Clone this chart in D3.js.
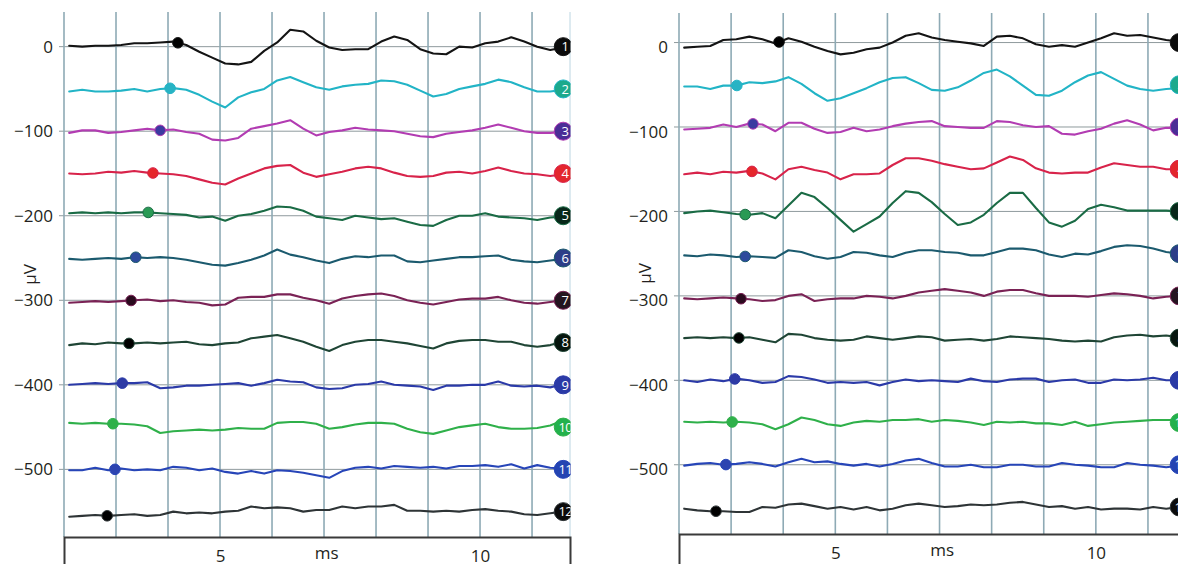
<!DOCTYPE html>
<html><head><meta charset="utf-8">
<script src="https://cdn.jsdelivr.net/npm/d3@7/dist/d3.min.js"></script>
<style>body{margin:0;background:#fff}svg{display:block}</style>
</head><body><svg id="c" width="1178" height="564"></svg>
<script>
// ---- data ----
const times = [2.1,2.35,2.6,2.85,3.1,3.35,3.6,3.85,4.1,4.35,4.6,4.85,5.1,5.35,5.6,5.85,6.1,6.35,6.6,6.85,7.1,7.35,7.6,7.85,8.1,8.35,8.6,8.85,9.1,9.35,9.6,9.85,10.1,10.35,10.6,10.85,11.1,11.35,11.6];
const baselines = [0,-50,-100,-150,-200,-250,-300,-350,-400,-450,-500,-550];
const traceNames = ["1","2","3","4","5","6","7","8","9","10","11","12"];

// deviations (µV) of each recorded trace from its baseline – left panel
const leftTraces = [
 [1,0,1,1,2,4,4,5,6,2,-6,-13,-20,-21,-18,-5,5,20,18,7,-1,-4,-3,-3,6,12,8,-3,-8,-9,0,-1,4,6,11,6,0,-4,-1],
 [-3,-1,-3,-3,-2,0,-3,0,1,-1,-7,-15,-22,-10,-4,0,10,14,8,2,-1,3,5,6,10,9,5,-2,-9,-6,0,3,6,11,8,2,-3,-3,-1],
 [-2,1,1,-2,-1,1,3,1,2,-1,-3,-10,-11,-8,3,6,9,13,3,-5,-1,1,4,2,1,0,-3,-6,-7,-3,-1,1,4,8,4,0,-2,-2,-1],
 [0,-1,0,2,1,3,1,0,-1,-3,-7,-11,-13,-6,0,6,9,10,1,-4,-1,2,6,8,6,1,-3,-4,-3,1,2,0,3,7,3,0,-1,-3,-1],
 [3,4,3,4,3,4,4,3,2,1,-2,-1,-6,0,2,6,11,10,6,-1,-3,-5,0,-2,-4,-3,-7,-11,-12,-5,0,0,3,-1,-2,-3,-5,-2,-1],
 [-1,-2,-1,0,-1,1,0,1,0,-2,-5,-8,-9,-6,-2,3,10,4,1,-3,-6,-1,2,1,3,3,-4,-5,-3,-1,1,1,2,3,-2,-4,-5,-3,-1],
 [-3,-2,-1,-2,-1,0,1,-1,0,-2,-3,-6,-5,3,4,4,7,7,3,0,-4,2,5,7,8,5,0,-3,-5,-2,1,2,2,4,0,-3,-4,-2,0],
 [-3,-1,-2,0,-1,-1,0,-1,0,1,-2,-3,-1,0,5,7,9,5,1,-5,-10,-3,1,3,3,1,-1,-4,-7,-1,2,3,3,1,1,-3,-5,-3,1],
 [0,1,2,1,2,2,3,-4,-3,-1,-1,0,1,2,-1,2,6,4,3,-3,-5,-4,0,1,4,0,-1,-2,-6,-1,-1,0,0,4,-1,-2,-1,-3,1],
 [5,4,5,4,4,3,1,-7,-5,-4,-3,-4,-3,-1,-2,-2,5,6,6,4,-2,0,3,5,5,4,-2,-6,-8,-4,0,2,4,0,-2,-2,-1,2,8],
 [-1,-1,2,-1,1,-1,0,-1,3,2,-1,1,-3,-5,-2,-5,-1,-2,-4,-7,-10,-2,2,3,1,4,3,2,3,1,4,4,5,3,6,1,5,2,1],
 [-6,-5,-4,-5,-4,-3,-5,-4,0,-2,-1,-2,0,1,6,4,5,4,0,2,2,6,4,6,6,8,1,1,0,1,0,2,3,1,0,-3,-4,-2,0]
];
// right panel
const rightTraces = [
 [-6,-5,-4,3,4,7,4,-1,5,1,-5,-10,-14,-12,-8,-6,0,8,11,6,3,1,-1,-4,7,8,5,-2,-5,-3,-5,0,5,11,8,9,6,3,1],
 [-2,-2,-5,-1,-1,3,2,4,9,1,-10,-19,-16,-10,-4,3,8,9,2,-6,-7,-3,5,14,18,10,-1,-12,-13,-7,3,11,15,7,-1,-5,-7,-5,-4],
 [-3,-2,-1,3,0,4,3,-5,5,5,-2,-7,-6,-1,-5,-3,1,4,6,7,1,0,-1,-1,7,6,2,0,1,-8,-9,-5,-2,4,8,3,-4,-1,-1],
 [-6,-4,-6,-3,-4,-2,-5,-12,0,3,-1,-4,-12,-6,-6,-5,5,13,13,10,6,3,0,1,8,15,11,1,-4,-5,-4,-4,2,7,5,3,3,0,0],
 [-2,0,1,-1,-3,-4,-2,-8,7,22,17,4,-10,-24,-15,-6,10,24,22,11,-3,-16,-13,-4,10,22,22,4,-13,-18,-11,3,8,5,1,1,1,1,0],
 [-2,-3,-1,-2,-4,-3,-4,-5,4,2,-3,-6,-4,2,1,-2,-4,1,4,4,2,1,-2,-2,2,6,6,4,-1,-4,0,-1,3,8,10,9,6,2,0],
 [-3,-4,-3,-2,-3,-4,-6,-5,0,2,-6,-4,-3,-3,0,-1,-3,0,4,6,8,6,4,0,5,7,7,3,0,0,0,-1,1,3,2,0,-3,-1,0],
 [0,1,0,1,0,1,-2,-5,5,4,0,-2,-3,-2,2,0,-2,0,2,1,-3,-2,-1,-3,-1,2,1,0,-1,-3,-4,-3,-4,1,3,4,2,3,1],
 [0,-2,1,-1,2,0,-3,-2,5,4,1,-3,-2,-3,-2,-6,-2,1,-1,0,-1,-2,2,-1,-2,1,2,2,-2,0,1,-3,-3,1,0,1,3,0,0],
 [1,0,1,0,1,0,-2,-8,-2,6,3,-2,-4,0,2,1,3,3,4,1,3,2,0,-3,1,0,1,-1,-1,-3,1,-4,-2,0,1,2,3,3,3],
 [-1,1,2,0,1,3,1,-2,3,7,3,4,1,-1,1,-2,1,5,7,2,-2,-2,0,-3,-3,0,0,-2,-2,2,0,-1,-3,-3,2,0,-1,-3,-1],
 [-2,-4,-5,-5,-6,-6,0,-1,3,4,1,-2,0,-3,0,-4,-2,2,4,2,0,1,3,2,3,5,6,3,0,1,-2,0,-3,-2,-2,-3,0,-2,0]
];
const leftDotTimes  = [4.19,4.04,3.85,3.71,3.62,3.38,3.29,3.25,3.12,2.94,2.98,2.83];
const rightDotTimes = [3.92,3.11,3.42,3.40,3.27,3.27,3.19,3.15,3.07,3.02,2.90,2.71];
const badgeTime = 11.6;

const yTickValues = [0,-100,-200,-300,-400,-500];
const yTickLabels = ["0","\u2212100","\u2212200","\u2212300","\u2212400","\u2212500"];
const xTickValues = [5,10];
const xTickLabels = ["5","10"];
const xGridValues = [2,3,4,5,6,7,8,9,10,11];
const xDomain = [2,11.73];
const xTitle = "ms", xTitleAt = 7.05;
const yTitle = "\u00b5V";

const lineColors  = ["#141414","#22b4c6","#b23cb2","#d8234a","#1a6b45","#1b5a6e","#7a2255","#1f4535","#2b3aa8","#2fb04a","#2745b8","#2e3436"];
const dotColors   = ["#000000","#27b3c4","#3b3aa0","#e5262b","#2a9a55","#2d4a9c","#2a0a1e","#000000","#2d3aa5","#2fb04a","#2d44b0","#000000"];
const badgeColors = ["#0b0b0b","#1ca98c","#4b2d96","#e3262d","#08281a","#2c3d88","#241420","#06150d","#2b3aa6","#22b14c","#2444b2","#0b0b0b"];

// ---- drawing ----
const svg = d3.select("#c");
const FONT = "'Open Sans', 'Noto Sans', sans-serif";
const panels = [
  {id:"L", traces:leftTraces, dots:leftDotTimes, x0:64, x1:570, yTop:12, yBot:537, yDom:[41,-580], labelDy:0},
  {id:"R", traces:rightTraces, dots:rightDotTimes, x0:679, x1:1186, yTop:13, yBot:534, yDom:[35,-582], labelDy:4.5}
];

function valueAt(arr, t){
  const i = Math.max(0, Math.min(times.length-2, d3.bisectRight(times, t)-1));
  const f = (t - times[i])/(times[i+1]-times[i]);
  return arr[i] + f*(arr[i+1]-arr[i]);
}

panels.forEach(p => {
  const x = d3.scaleLinear().domain(xDomain).range([p.x0, p.x1]);
  const y = d3.scaleLinear().domain(p.yDom).range([p.yTop, p.yBot]);
  const g = svg.append("g");

  svg.append("clipPath").attr("id","clip"+p.id)
    .append("rect").attr("x",0).attr("y",0).attr("width",p.x1+0.5).attr("height",564);

  // horizontal grid
  g.selectAll(".hg").data(yTickValues).join("line")
    .attr("x1", p.x0-5).attr("x2", p.x1)
    .attr("y1", d=>y(d)).attr("y2", d=>y(d))
    .attr("stroke","#8f9a9d").attr("stroke-width",1);
  // vertical grid
  g.selectAll(".vg").data(xGridValues).join("line")
    .attr("x1", d=>x(d)).attr("x2", d=>x(d))
    .attr("y1", p.yTop).attr("y2", p.yBot)
    .attr("stroke","#8eaab5").attr("stroke-width",1.6);
  g.append("line").attr("x1", x(xDomain[1])).attr("x2", x(xDomain[1]))
    .attr("y1", p.yTop).attr("y2", p.yBot)
    .attr("stroke","#bcd6e2").attr("stroke-width",1);

  // y tick labels
  g.selectAll(".yl").data(yTickValues).join("text")
    .attr("x", p.x0-11).attr("y", d=>y(d)+p.labelDy).attr("dy","0.36em")
    .attr("text-anchor","end").attr("font-family",FONT).attr("font-size",17)
    .attr("fill","#231f20").text((d,i)=>yTickLabels[i]);

  // traces
  const line = d3.line().x((d,i)=>x(times[i])).y(d=>y(d));
  const tg = g.append("g").attr("clip-path","url(#clip"+p.id+")");
  p.traces.forEach((dev,k) => {
    const vals = dev.map(v => baselines[k]+v);
    tg.append("path").datum(vals).attr("d", line)
      .attr("fill","none").attr("stroke",lineColors[k]).attr("stroke-width",2.1)
      .attr("stroke-linejoin","round").attr("stroke-linecap","round");
  });
  // markers
  p.traces.forEach((dev,k) => {
    const t = p.dots[k];
    const v = baselines[k] + valueAt(dev, t);
    tg.append("circle").attr("cx", x(t)).attr("cy", y(v)).attr("r",5.3)
      .attr("fill",dotColors[k]).attr("stroke",lineColors[k]).attr("stroke-width",1);
  });
  // end badges
  baselines.forEach((b,k) => {
    tg.append("circle").attr("cx", x(badgeTime)).attr("cy", y(b)).attr("r",9)
      .attr("fill",badgeColors[k]).attr("stroke",lineColors[k]).attr("stroke-width",1);
    tg.append("text").attr("x", x(badgeTime)+2).attr("y", y(b)).attr("dy","0.36em")
      .attr("text-anchor","middle").attr("font-family",FONT).attr("font-size",13)
      .attr("letter-spacing", traceNames[k].length>1 ? -0.6 : 0)
      .attr("fill","#ffffff").text(traceNames[k]);
  });

  // bottom axis
  const ax = g.append("g").attr("transform",`translate(0,${p.yBot})`)
    .call(d3.axisBottom(x).tickValues(xTickValues).tickFormat((d,i)=>xTickLabels[i])
      .tickSizeInner(0).tickSizeOuter(32).tickPadding(13));
  ax.attr("font-family",FONT).attr("font-size",17);
  ax.select(".domain").attr("stroke","#3a3a3a").attr("stroke-width",2);
  ax.selectAll("text").attr("fill","#231f20");

  // titles
  g.append("text").attr("x", x(xTitleAt)).attr("y", p.yBot+22)
    .attr("text-anchor","middle").attr("font-family",FONT).attr("font-size",17)
    .attr("fill","#231f20").text(xTitle);
  g.append("text").attr("transform",`translate(${p.x0-28},${(p.yTop+p.yBot)/2}) rotate(-90)`)
    .attr("text-anchor","middle").attr("font-family",FONT).attr("font-size",17)
    .attr("fill","#231f20").text(yTitle);
});
</script></body></html>
